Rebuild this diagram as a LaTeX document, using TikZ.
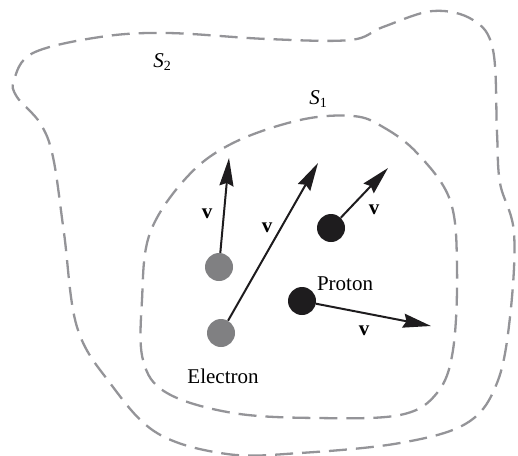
\documentclass[tikz,border=0pt]{standalone}
\usepackage{fontspec}
\setmainfont{Liberation Serif}
\usepackage{tikz}
\usetikzlibrary{arrows.meta}

\definecolor{surfgray}{RGB}{148,148,152}
\definecolor{elecgray}{RGB}{128,128,130}
\definecolor{protblack}{RGB}{30,28,30}

\newcommand{\surflabel}[1]{\textit{S}\raisebox{-0.35ex}{\fontsize{14}{16}\selectfont #1}}

\tikzset{
  surface/.style={draw=surfgray, line width=2.3pt, dash pattern=on 18pt off 9pt},
  electron/.style={circle, fill=elecgray, minimum size=28pt, inner sep=0pt},
  proton/.style={circle, fill=protblack, minimum size=28pt, inner sep=0pt},
  velocity/.style={draw=protblack, line width=2pt, -{Stealth[length=28pt,width=14pt,inset=3pt]}},
  lbl/.style={font=\fontsize{21}{24}\selectfont, inner sep=0pt}
}

\begin{document}
\begin{tikzpicture}[x=1pt, y=-1pt]
  \useasboundingbox (0,0) rectangle (518,455);

  % closed surfaces
  \draw[surface] plot[smooth cycle, tension=0.6] coordinates {
    (14,80) (33,53) (100,37) (167,33) (267,39) (350,40) (383,27) (433,11)
    (473,20) (493,50) (497,133) (500,183) (514,233) (510,317) (497,383)
    (467,423) (400,443) (300,453) (227,454) (157,433) (110,383) (77,327)
    (64,233) (53,157) (40,123) (17,97)};
  \draw[surface] plot[smooth cycle, tension=0.6] coordinates {
    (353,116) (383,127) (417,153) (450,200) (457,267) (453,350) (437,393)
    (400,415) (317,418) (233,413) (167,393) (143,360) (142,300) (150,233)
    (187,177) (233,143) (300,120)};
  \node[lbl] (s2) at (162,62) {\surflabel{2}};
  \node[lbl] (s1) at (318,99) {\surflabel{1}};

  % particles
  \node[electron] (e1) at (219,267) {};
  \node[electron] (e2) at (221,333) {};
  \node[proton] (p1) at (331,228) {};
  \node[proton] (p2) at (302,301) {};

  \coordinate (t1) at (229,158);
  \coordinate (t2) at (318,163);
  \coordinate (t3) at (388,168);
  \coordinate (t4) at (431,326);

  \draw[velocity] (e1) -- (t1);
  \draw[velocity] (e2) -- (t2);
  \draw[velocity] (p1) -- (t3);
  \draw[velocity] (p2) -- (t4);

  \node[lbl] (v1) at (207,214) {\textbf{v}};
  \node[lbl] (v2) at (267,228) {\textbf{v}};
  \node[lbl] (v3) at (374,210) {\textbf{v}};
  \node[lbl] (v4) at (364,331) {\textbf{v}};

  \node[lbl] (prot) at (345,284) {Proton};
  \node[lbl] (elec) at (223,376) {Electron};
\end{tikzpicture}
\end{document}
